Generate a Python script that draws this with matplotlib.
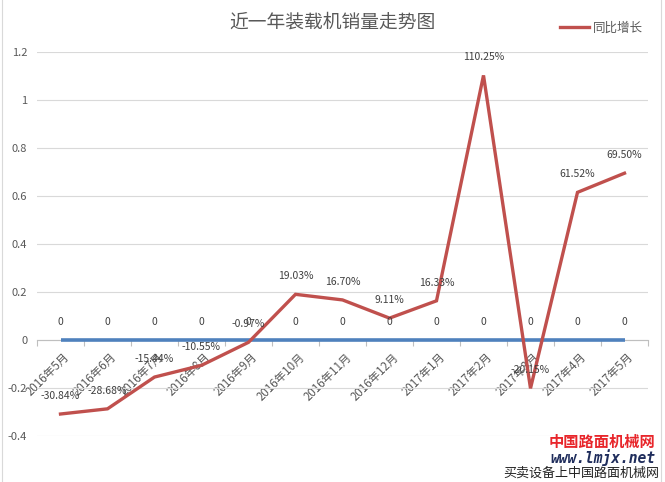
import matplotlib
matplotlib.use('Agg')
import matplotlib.pyplot as plt
from matplotlib.patches import Rectangle
from matplotlib.ticker import FixedLocator, FuncFormatter
from matplotlib.transforms import ScaledTranslation
import numpy as np

plt.rcParams['font.family'] = ['Noto Sans CJK SC', 'DejaVu Sans']

months = ['2016年5月', '2016年6月', '2016年7月', '2016年8月', '2016年9月', '2016年10月',
          '2016年11月', '2016年12月', '2017年1月', '2017年2月', '2017年3月', '2017年4月',
          '2017年5月']
sales = [0, 0, 0, 0, 0, 0, 0, 0, 0, 0, 0, 0, 0]
yoy = [-0.3084, -0.2868, -0.1544, -0.1055, -0.0097, 0.1903, 0.1670, 0.0911, 0.1633,
       1.1025, -0.2015, 0.6152, 0.6950]
y_ticks = [-0.4, -0.2, 0, 0.2, 0.4, 0.6, 0.8, 1.0, 1.2]

GREY = '#595959'
RED = '#c0504d'
BLUE = '#4f81bd'

W, H = 665, 482
fig = plt.figure(figsize=(W / 100, H / 100), dpi=100)
ax = fig.add_axes([37 / W, 1 - 436 / H, 611 / W, 384 / H])

x = np.arange(len(months))
ax.plot(x, sales, color=BLUE, lw=2.6, solid_capstyle='butt', label='_nolegend_', zorder=3)
ax.plot(x, yoy, color=RED, lw=2.4, solid_joinstyle='miter', label='同比增长', zorder=4)

for xi, v in zip(x, sales):
    ax.annotate(f'{v}', (xi, v), xytext=(0, 13), textcoords='offset points',
                ha='center', va='center', fontsize=7.5, color='#404040', zorder=5)
for xi, v in zip(x, yoy):
    ax.annotate(f'{v * 100:.2f}%', (xi, v), xytext=(0, 13), textcoords='offset points',
                ha='center', va='center', fontsize=7.5, color='#404040', zorder=5)

ax.set_xlim(-0.5, len(months) - 0.5)
ax.set_ylim(-0.4, 1.2)
ax.set_yticks(y_ticks)
ax.yaxis.set_major_formatter(FuncFormatter(lambda v, p: f'{round(v, 2):g}'))
ax.yaxis.grid(True, color='#d9d9d9', lw=0.8)
ax.set_axisbelow(True)
ax.tick_params(axis='y', length=0, pad=7, labelsize=8, labelcolor=GREY)

for s in ['top', 'right', 'left']:
    ax.spines[s].set_visible(False)
ax.spines['bottom'].set_position(('data', 0))
ax.spines['bottom'].set_color('#bfbfbf')
ax.spines['bottom'].set_linewidth(0.8)

ax.set_xticks(x)
ax.set_xticklabels(months)
ax.xaxis.set_minor_locator(FixedLocator(np.arange(-0.5, len(months), 1.0)))
ax.tick_params(axis='x', which='major', length=0, pad=7.5, labelsize=8.3, labelcolor=GREY)
ax.tick_params(axis='x', which='minor', length=4, color='#bfbfbf', width=0.8)
shift = ScaledTranslation(2.5 / 100, 0, fig.dpi_scale_trans)
for lab in ax.get_xticklabels():
    lab.set_rotation(45)
    lab.set_ha('right')
    lab.set_va('top')
    lab.set_rotation_mode('anchor')
    lab.set_transform(lab.get_transform() + shift)

fig.text(332 / W, 1 - 22 / H, '近一年装载机销量走势图', ha='center', va='center',
         fontsize=13.5, color=GREY)
ax.legend(loc='center left', bbox_to_anchor=(560 / W, 1 - 28 / H),
          bbox_transform=fig.transFigure, frameon=False, fontsize=9,
          handlelength=2.3, handletextpad=0.3, borderpad=0, borderaxespad=0,
          labelcolor=GREY)

# watermark
fig.text(602 / W, 1 - 442 / H, '中国路面机械网', ha='center', va='center', fontsize=11,
         color='#e8262b', fontweight='bold', style='italic')
fig.text(603 / W, 1 - 458 / H, 'www.lmjx.net', ha='center', va='center', fontsize=10.5,
         color='#1f2d5c', fontweight='bold', style='italic', family='DejaVu Sans Mono')
fig.text(581 / W, 1 - 473 / H, '买卖设备上中国路面机械网', ha='center', va='center',
         fontsize=9.4, color='#222222')

fig.patches.append(Rectangle((2 / W, -0.05), 659 / W, 1.1, transform=fig.transFigure,
                             fill=False, edgecolor='#d9d9d9', lw=0.8))

fig.savefig('out.png', dpi=100)
